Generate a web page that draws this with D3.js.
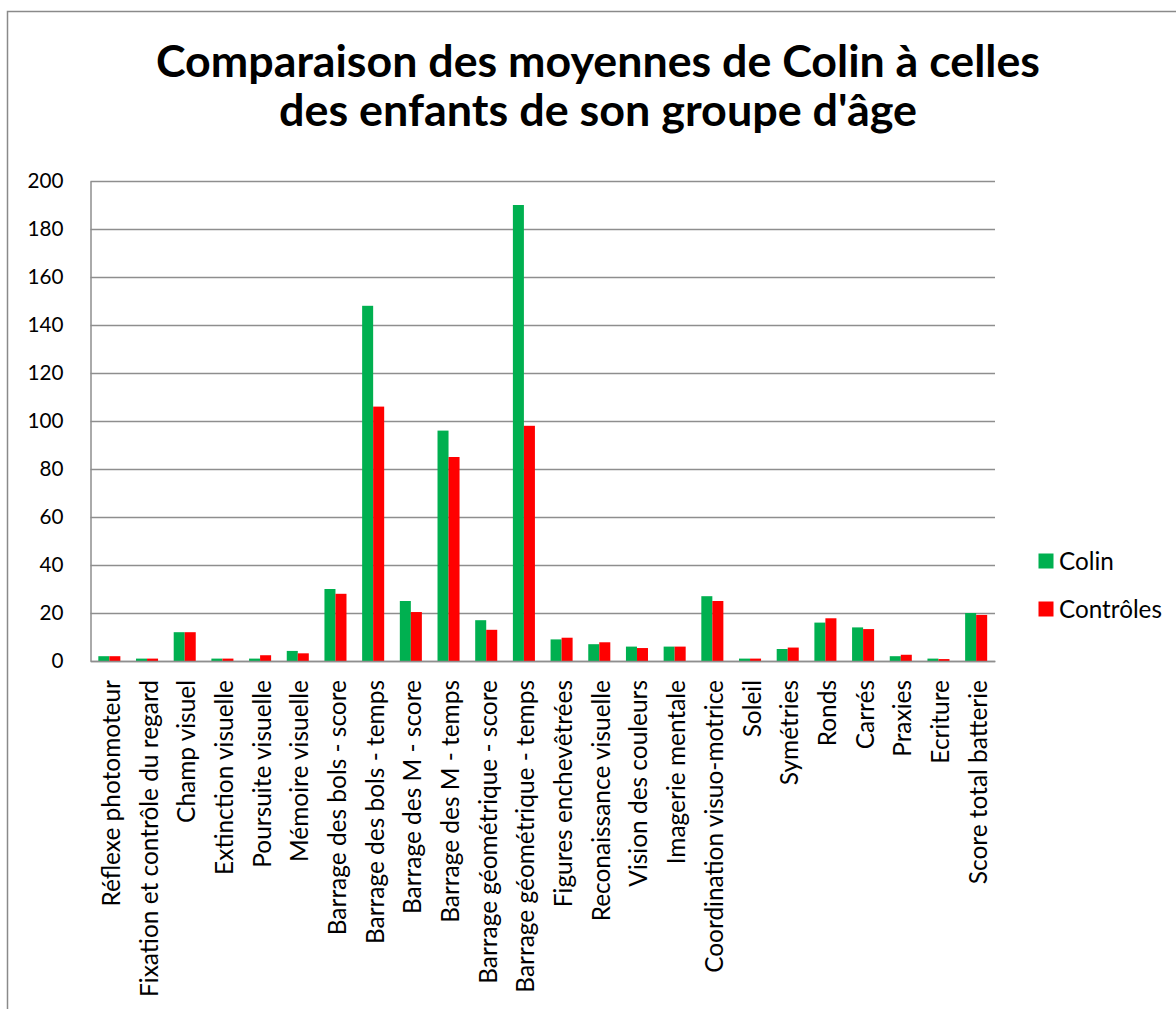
<!DOCTYPE html>
<html>
<head>
<meta charset="utf-8">
<script src="https://cdn.jsdelivr.net/npm/d3@7"></script>
<style>
  html, body { margin: 0; padding: 0; background: #fff; }
  svg { display: block; }
  text { font-family: Lato, "Open Sans", sans-serif; fill: #000; }
</style>
</head>
<body>
<svg id="chart" width="1176" height="1009"></svg>
<script>
// Test names along the x axis
const categories = [
  "Réflexe photomoteur",
  "Fixation et contrôle du regard",
  "Champ visuel",
  "Extinction visuelle",
  "Poursuite visuelle",
  "Mémoire visuelle",
  "Barrage des bols - score",
  "Barrage des bols - temps",
  "Barrage des M - score",
  "Barrage des M - temps",
  "Barrage géométrique - score",
  "Barrage géométrique - temps",
  "Figures enchevêtrées",
  "Reconaissance visuelle",
  "Vision des couleurs",
  "Imagerie mentale",
  "Coordination visuo-motrice",
  "Soleil",
  "Symétries",
  "Ronds",
  "Carrés",
  "Praxies",
  "Ecriture",
  "Score total batterie"
];

// Colin's means
const colin = [2, 1, 12, 1, 1, 4.2, 30, 148, 25, 96, 17, 190, 9, 7, 6, 6, 27, 1, 5, 16, 14, 2, 1, 20];

// Means of the age-matched control group
const controles = [2, 1, 12, 1, 2.4, 3.2, 28, 106, 20.4, 85, 13, 98, 9.7, 7.8, 5.4, 6, 25, 1, 5.6, 17.8, 13.3, 2.6, 0.8, 19.2];

const seriesNames = ["Colin", "Contrôles"];
const seriesColors = ["#00B050", "#FF0000"];
const yTicks = [0, 20, 40, 60, 80, 100, 120, 140, 160, 180, 200];
const titleLines = [
  "Comparaison des moyennes de Colin à celles",
  "des enfants de son groupe d'âge"
];

const svg = d3.select("#chart");
const plot = { left: 90.5, right: 995, top: 181, bottom: 661 };
const gridColor = "#8e8e8e";

// font size that makes a string span a given width
function fitSize(str, width, weight) {
  const t = svg.append("text")
    .style("font-size", "100px")
    .style("font-weight", weight || "normal")
    .text(str);
  const w = t.node().getComputedTextLength();
  t.remove();
  return 100 * width / w;
}

// outer chart frame
svg.append("rect")
  .attr("x", 7.5).attr("y", 11.5)
  .attr("width", 1182).attr("height", 1020)
  .attr("fill", "none")
  .attr("stroke", "#8a8a8a")
  .attr("stroke-width", 1.5);

// title
const titleWidths = [884, 638];
const titleBaselines = [76.5, 126];
const titleSize = fitSize(titleLines[0], titleWidths[0], "bold");
titleLines.forEach((line, i) => {
  svg.append("text")
    .attr("x", 598)
    .attr("y", titleBaselines[i])
    .attr("text-anchor", "middle")
    .style("font-size", titleSize + "px")
    .style("font-weight", "bold")
    .attr("textLength", titleWidths[i])
    .attr("lengthAdjust", "spacingAndGlyphs")
    .text(line);
});

// scales
const x = d3.scaleBand()
  .domain(categories)
  .range([plot.left, plot.right])
  .paddingInner(0)
  .paddingOuter(0);

const xInner = d3.scaleBand()
  .domain(seriesNames)
  .range([0, x.bandwidth()])
  .paddingInner(0)
  .paddingOuter(0.71);

const y = d3.scaleLinear()
  .domain([0, 200])
  .range([plot.bottom, plot.top]);

// horizontal gridlines
svg.append("g")
  .attr("transform", `translate(${plot.left},0)`)
  .call(d3.axisLeft(y).tickValues(yTicks).tickSize(-(plot.right - plot.left)).tickFormat(""))
  .call(g => g.select(".domain").remove())
  .call(g => g.selectAll(".tick line")
    .attr("stroke", gridColor)
    .attr("stroke-width", 1.5));

// y axis labels and line
const tickSize = fitSize("200", 36);
svg.append("g")
  .attr("transform", `translate(${plot.left},0)`)
  .call(d3.axisLeft(y).tickValues(yTicks).tickSize(0).tickPadding(27))
  .call(g => g.select(".domain").attr("stroke", gridColor).attr("stroke-width", 1.5))
  .call(g => g.selectAll(".tick text")
    .style("font-size", tickSize + "px")
    .style("font-family", "Lato, sans-serif")
    .attr("fill", "#000"));

// bars
const rows = categories.map((c, i) => ({ cat: c, values: [colin[i], controles[i]] }));
const groups = svg.append("g")
  .selectAll("g")
  .data(rows)
  .join("g")
  .attr("transform", d => `translate(${x(d.cat)},0)`);

groups.selectAll("rect")
  .data(d => d.values.map((v, k) => ({ name: seriesNames[k], value: v, k })))
  .join("rect")
  .attr("x", d => xInner(d.name))
  .attr("width", xInner.bandwidth())
  .attr("y", d => y(d.value))
  .attr("height", d => y(0) - y(d.value))
  .attr("fill", d => seriesColors[d.k]);

// x axis with vertical category labels
const labelSize = fitSize("Coordination visuo-motrice", 293);
svg.append("g")
  .attr("transform", `translate(0,${plot.bottom})`)
  .call(d3.axisBottom(x).tickSize(0))
  .call(g => g.select(".domain").attr("stroke", gridColor).attr("stroke-width", 1.5))
  .call(g => g.selectAll(".tick text")
    .attr("transform", "rotate(-90)")
    .attr("text-anchor", "end")
    .attr("x", -19)
    .attr("y", 10.5)
    .attr("dy", 0)
    .style("font-size", labelSize + "px")
    .style("font-family", "Lato, sans-serif")
    .attr("fill", "#000"));

// legend
const legendSize = fitSize("Contrôles", 103);
const legend = svg.append("g")
  .selectAll("g")
  .data(seriesNames)
  .join("g")
  .attr("transform", (d, i) => `translate(1038.5,${553.5 + i * 48})`);

legend.append("rect")
  .attr("width", 15)
  .attr("height", 15)
  .attr("fill", (d, i) => seriesColors[i]);

legend.append("text")
  .attr("x", 20.5)
  .attr("y", 7.5)
  .attr("dy", "0.35em")
  .style("font-size", legendSize + "px")
  .text(d => d);
</script>
</body>
</html>
